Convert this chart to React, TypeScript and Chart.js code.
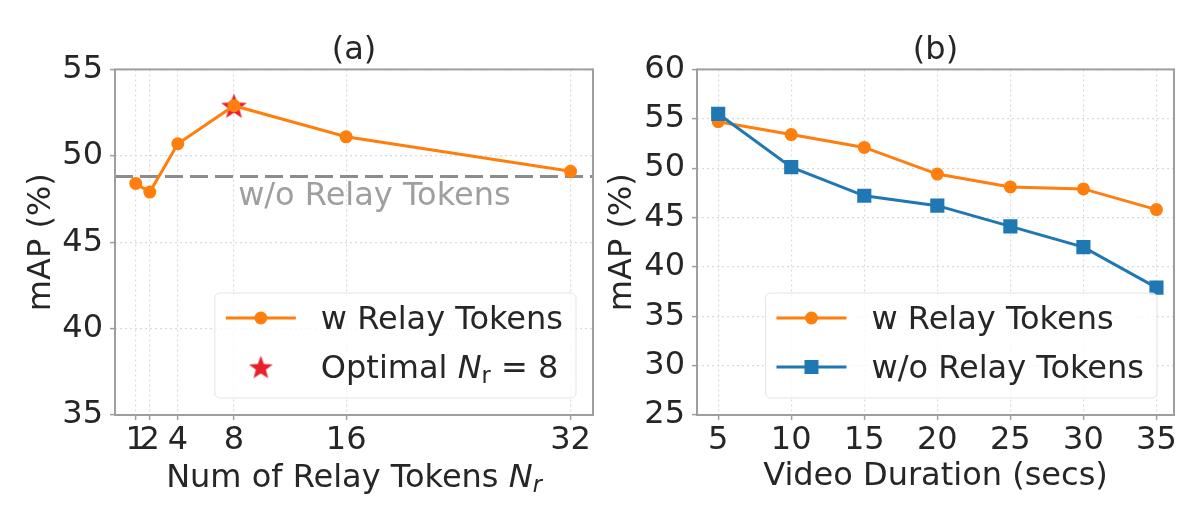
import React, { useEffect, useRef } from "react";
import { Chart, registerables } from "chart.js";

Chart.register(...registerables);

const FONT = '"DejaVu Sans", "Liberation Sans", sans-serif';
const FONT_SIZE = 32;
const ORANGE = "#ff7f0e";
const BLUE = "#1f77b4";
const STAR_RED = "#e8202a";
const TEXT = "#262626";
const SPINE = "#9e9e9e";
const GRID = "#d9d9d9";
const BASELINE_GRAY = "#8c8c8c";
const BASELINE_TEXT = "#9f9f9f";

// ---------- (a) data ----------
const relayTokenCounts = [1, 2, 4, 8, 16, 32];
const mapWithRelayA = [48.4, 47.9, 50.7, 52.9, 51.1, 49.1];
const optimalTokens = [8];
const optimalMAP = [52.9];
const baselineMAP = 48.8; // w/o Relay Tokens
const aTickValuesX = [1, 2, 4, 8, 16, 32];
const aTickValuesY = [35, 40, 45, 50, 55];
const aRangeX = [-0.48, 33.6];
const aRangeY = [35, 55];
const baselineLabel = "w/o Relay Tokens";
const baselineLabelAt = { x: 8.3, y: 47.15 };

// ---------- (b) data ----------
const durations = [5, 10, 15, 20, 25, 30, 35];
const mapWithRelayB = [54.7, 53.4, 52.1, 49.4, 48.1, 47.9, 45.8];
const mapWithoutRelayB = [55.5, 50.1, 47.2, 46.2, 44.1, 42.0, 37.9];
const bTickValuesX = [5, 10, 15, 20, 25, 30, 35];
const bTickValuesY = [25, 30, 35, 40, 45, 50, 55, 60];
const bRangeX = [3.55, 36.2];
const bRangeY = [25, 60];

type Part = { t: string; italic?: boolean; sub?: boolean };

const legendA = [
  { parts: [{ t: "w Relay Tokens" }] as Part[], marker: "circle", color: ORANGE },
  {
    parts: [{ t: "Optimal " }, { t: "N", italic: true }, { t: "r", sub: true }, { t: " = 8" }] as Part[],
    marker: "star",
    color: STAR_RED,
  },
];
const legendB = [
  { parts: [{ t: "w Relay Tokens" }] as Part[], marker: "circle", color: ORANGE },
  { parts: [{ t: "w/o Relay Tokens" }] as Part[], marker: "square", color: BLUE },
];
const xTitleA: Part[] = [{ t: "Num of Relay Tokens " }, { t: "N", italic: true }, { t: "r", sub: true, italic: true }];

function makeStar(size: number, color: string) {
  const c = document.createElement("canvas");
  c.width = size;
  c.height = size;
  const ctx = c.getContext("2d")!;
  const cx = size / 2;
  const cy = size / 2 + size * 0.05;
  const R = size / 2;
  const r = R * 0.42;
  ctx.beginPath();
  for (let i = 0; i < 10; i++) {
    const ang = -Math.PI / 2 + (i * Math.PI) / 5;
    const rad = i % 2 === 0 ? R : r;
    ctx.lineTo(cx + rad * Math.cos(ang), cy + rad * Math.sin(ang));
  }
  ctx.closePath();
  ctx.fillStyle = color;
  ctx.fill();
  return c;
}

function setFont(ctx: CanvasRenderingContext2D, p: Part) {
  const fs = p.sub ? FONT_SIZE * 0.7 : FONT_SIZE;
  ctx.font = `${p.italic ? "italic " : ""}${fs}px ${FONT}`;
}

function partsWidth(ctx: CanvasRenderingContext2D, parts: Part[]) {
  let w = 0;
  for (const p of parts) {
    setFont(ctx, p);
    w += ctx.measureText(p.t).width;
  }
  return w;
}

function drawParts(ctx: CanvasRenderingContext2D, parts: Part[], x: number, y: number, color: string) {
  let cx = x;
  ctx.fillStyle = color;
  ctx.textAlign = "left";
  ctx.textBaseline = "alphabetic";
  for (const p of parts) {
    setFont(ctx, p);
    ctx.fillText(p.t, cx, y + (p.sub ? FONT_SIZE * 0.17 : 0));
    cx += ctx.measureText(p.t).width;
  }
}

const framePlugin = {
  id: "frame",
  afterDatasetsDraw(chart: any) {
    const { ctx, chartArea: a } = chart;
    ctx.save();
    ctx.strokeStyle = SPINE;
    ctx.lineWidth = 2;
    ctx.strokeRect(a.left, a.top, a.right - a.left, a.bottom - a.top);
    ctx.restore();
  },
};

function makeLegendPlugin(items: any[], starImg: HTMLCanvasElement) {
  return {
    id: "customLegend",
    afterDraw(chart: any) {
      const { ctx, chartArea: a } = chart;
      ctx.save();
      const padL = 11, handle = 70, gap = 25, padR = 13, height = 105;
      let tw = 0;
      for (const it of items) tw = Math.max(tw, partsWidth(ctx, it.parts));
      const w = padL + handle + gap + tw + padR;
      const right = a.right - 17;
      const bottom = a.bottom - 17;
      const left = right - w;
      const top = bottom - height;
      ctx.beginPath();
      ctx.roundRect(left, top, w, height, 5);
      ctx.fillStyle = "rgba(255,255,255,0.8)";
      ctx.fill();
      ctx.strokeStyle = "#e4e4e4";
      ctx.lineWidth = 1;
      ctx.stroke();
      const rowsY = [bottom - 80, bottom - 31];
      items.forEach((it, i) => {
        const y = rowsY[i];
        const hx = left + padL;
        const mx = hx + handle / 2;
        if (it.marker !== "star") {
          ctx.beginPath();
          ctx.moveTo(hx, y);
          ctx.lineTo(hx + handle, y);
          ctx.strokeStyle = it.color;
          ctx.lineWidth = 3;
          ctx.stroke();
          ctx.fillStyle = it.color;
          if (it.marker === "circle") {
            ctx.beginPath();
            ctx.arc(mx, y, 6.5, 0, Math.PI * 2);
            ctx.fill();
          } else {
            ctx.fillRect(mx - 7, y - 7, 14, 14);
          }
        } else {
          ctx.drawImage(starImg, mx - starImg.width / 2, y - starImg.height / 2);
        }
        drawParts(ctx, it.parts, hx + handle + gap, y + 11, TEXT);
      });
      ctx.restore();
    },
  };
}

const baselinePlugin = {
  id: "baseline",
  beforeDatasetsDraw(chart: any) {
    const { ctx, chartArea: a, scales } = chart;
    const y = scales.y.getPixelForValue(baselineMAP);
    ctx.save();
    ctx.beginPath();
    ctx.rect(a.left, a.top, a.right - a.left, a.bottom - a.top);
    ctx.clip();
    ctx.setLineDash([18, 7]);
    ctx.strokeStyle = BASELINE_GRAY;
    ctx.lineWidth = 3;
    ctx.beginPath();
    ctx.moveTo(a.left, y);
    ctx.lineTo(a.right, y);
    ctx.stroke();
    ctx.setLineDash([]);
    ctx.font = `${FONT_SIZE}px ${FONT}`;
    ctx.fillStyle = BASELINE_TEXT;
    ctx.textAlign = "left";
    ctx.textBaseline = "alphabetic";
    ctx.fillText(
      baselineLabel,
      scales.x.getPixelForValue(baselineLabelAt.x),
      scales.y.getPixelForValue(baselineLabelAt.y)
    );
    ctx.restore();
  },
};

const xTitleAPlugin = {
  id: "xTitleA",
  afterDraw(chart: any) {
    const { ctx, chartArea: a } = chart;
    ctx.save();
    const w = partsWidth(ctx, xTitleA);
    drawParts(ctx, xTitleA, (a.left + a.right) / 2 - w / 2, a.bottom + 72, TEXT);
    ctx.restore();
  },
};

function axisCommon(ticks: number[], range: number[]) {
  return {
    type: "linear" as const,
    min: range[0],
    max: range[1],
    afterBuildTicks: (s: any) => {
      s.ticks = ticks.map((v) => ({ value: v }));
    },
    grid: {
      color: GRID,
      lineWidth: 1.2,
      drawTicks: true,
      tickLength: 5,
      tickColor: SPINE,
      tickWidth: 1.5,
      tickBorderDash: [],
    },
    border: { display: false, dash: [2, 3] },
  };
}

function xAxis(ticks: number[], range: number[], title?: string) {
  return {
    ...axisCommon(ticks, range),
    position: "bottom" as const,
    afterFit: (s: any) => {
      s.height = 115;
      s.paddingLeft = 0;
      s.paddingRight = 0;
    },
    ticks: {
      autoSkip: false,
      maxRotation: 0,
      minRotation: 0,
      padding: 5,
      color: TEXT,
      font: { family: FONT, size: FONT_SIZE, lineHeight: 1 },
      callback: (v: any) => String(v),
    },
    title: title
      ? {
          display: true,
          text: title,
          color: TEXT,
          font: { family: FONT, size: FONT_SIZE },
          padding: { top: 0, bottom: 34 },
        }
      : { display: false },
  };
}

function yAxis(ticks: number[], range: number[], width: number, titlePad: number) {
  return {
    ...axisCommon(ticks, range),
    position: "left" as const,
    afterFit: (s: any) => {
      s.width = width;
    },
    ticks: {
      padding: 7,
      color: TEXT,
      font: { family: FONT, size: FONT_SIZE },
      callback: (v: any) => String(v),
    },
    title: {
      display: true,
      text: "mAP (%)",
      color: TEXT,
      font: { family: FONT, size: FONT_SIZE },
      padding: { top: titlePad, bottom: 0 },
    },
  };
}

function titleOpts(text: string) {
  return {
    display: true,
    text,
    color: TEXT,
    fullSize: false,
    font: { family: FONT, size: FONT_SIZE, weight: "normal" as const },
    padding: { top: 31, bottom: 0 },
  };
}

export default function App() {
  const refA = useRef<HTMLCanvasElement>(null);
  const refB = useRef<HTMLCanvasElement>(null);

  useEffect(() => {
    const star = makeStar(27, STAR_RED);
    const legendStar = makeStar(25, STAR_RED);
    const chartA = new Chart(refA.current!, {
      type: "line",
      data: {
        datasets: [
          {
            label: "w Relay Tokens",
            data: relayTokenCounts.map((x, i) => ({ x, y: mapWithRelayA[i] })),
            borderColor: ORANGE,
            backgroundColor: ORANGE,
            borderWidth: 3,
            pointRadius: 6.5,
            pointBackgroundColor: ORANGE,
            pointBorderColor: ORANGE,
            pointBorderWidth: 0,
            order: 1,
          },
          {
            label: "Optimal",
            data: optimalTokens.map((x, i) => ({ x, y: optimalMAP[i] })),
            showLine: false,
            pointStyle: star as any,
            pointRadius: 13,
            order: 2,
          },
        ],
      },
      options: {
        animation: false,
        responsive: false,
        devicePixelRatio: 1,
        layout: { autoPadding: false, padding: { left: 0, right: 7, top: 0, bottom: 0 } },
        plugins: {
          legend: { display: false },
          tooltip: { enabled: false },
          title: titleOpts("(a)"),
        },
        scales: {
          x: xAxis(aTickValuesX, aRangeX),
          y: yAxis(aTickValuesY, aRangeY, 115, 22),
        },
      } as any,
      plugins: [baselinePlugin, framePlugin, makeLegendPlugin(legendA, legendStar), xTitleAPlugin],
    });

    const chartB = new Chart(refB.current!, {
      type: "line",
      data: {
        datasets: [
          {
            label: "w/o Relay Tokens",
            data: durations.map((x, i) => ({ x, y: mapWithoutRelayB[i] })),
            borderColor: BLUE,
            backgroundColor: BLUE,
            borderWidth: 3,
            pointStyle: "rect",
            pointRadius: 10,
            pointBackgroundColor: BLUE,
            pointBorderColor: BLUE,
            pointBorderWidth: 0,
            order: 0,
          },
          {
            label: "w Relay Tokens",
            data: durations.map((x, i) => ({ x, y: mapWithRelayB[i] })),
            borderColor: ORANGE,
            backgroundColor: ORANGE,
            borderWidth: 3,
            pointRadius: 6.5,
            pointBackgroundColor: ORANGE,
            pointBorderColor: ORANGE,
            pointBorderWidth: 0,
            order: 1,
          },
        ],
      },
      options: {
        animation: false,
        responsive: false,
        devicePixelRatio: 1,
        layout: { autoPadding: false, padding: { left: 0, right: 26, top: 0, bottom: 0 } },
        plugins: {
          legend: { display: false },
          tooltip: { enabled: false },
          title: titleOpts("(b)"),
        },
        scales: {
          x: xAxis(bTickValuesX, bRangeX, "Video Duration (secs)"),
          y: yAxis(bTickValuesY, bRangeY, 107, 13),
        },
      } as any,
      plugins: [framePlugin, makeLegendPlugin(legendB, legendStar)],
    });

    return () => {
      chartA.destroy();
      chartB.destroy();
    };
  }, []);

  return (
    <div
      style={{
        position: "absolute",
        left: 0,
        top: 0,
        width: 1200,
        height: 530,
        background: "#ffffff",
        overflow: "hidden",
      }}
    >
      <canvas ref={refA} width={600} height={530} style={{ position: "absolute", left: 0, top: 0 }} />
      <canvas ref={refB} width={610} height={530} style={{ position: "absolute", left: 590, top: 0 }} />
    </div>
  );
}
